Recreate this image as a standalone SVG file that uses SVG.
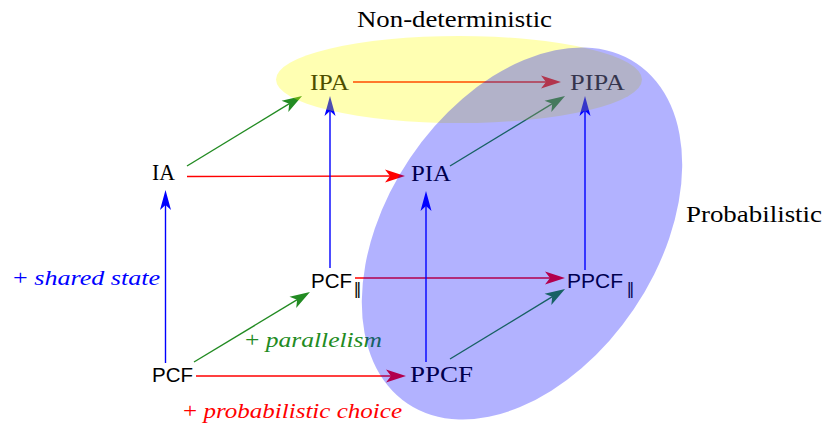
<svg xmlns="http://www.w3.org/2000/svg" width="823" height="426" viewBox="0 0 823 426">
<style>
.serif{font-family:"Liberation Serif","DejaVu Serif",serif;font-size:23px;fill:#000}
.sans{font-family:"Liberation Sans","DejaVu Sans",sans-serif;font-size:21px;fill:#000}
.bar{font-family:"DejaVu Sans",sans-serif;font-size:16px;fill:#000}
.lbl{font-family:"Liberation Serif","DejaVu Serif",serif;font-size:22px}
.it{font-style:italic}
.e{fill:none;stroke-width:1.4}
.r{stroke:#ff0000}
.b{stroke:#0000ff}
.g{stroke:#228b22}
</style>
<defs>
<marker id="ar" markerUnits="userSpaceOnUse" orient="auto" refX="0" refY="0" markerWidth="30" markerHeight="20" overflow="visible"><path d="M10,0 L-10,-6.5 L-5,0 L-10,6.5 Z" fill="#ff0000"/></marker>
<marker id="ab" markerUnits="userSpaceOnUse" orient="auto" refX="0" refY="0" markerWidth="30" markerHeight="20" overflow="visible"><path d="M10,0 L-10,-5.5 L-5,0 L-10,5.5 Z" fill="#0000ff"/></marker>
<marker id="ag" markerUnits="userSpaceOnUse" orient="auto" refX="0" refY="0" markerWidth="30" markerHeight="20" overflow="visible"><path d="M10,0 L-10,-6.5 L-5,0 L-10,6.5 Z" fill="#228b22"/></marker>
</defs>
<g id="labels">
<text class="serif" x="357" y="27" textLength="195" lengthAdjust="spacingAndGlyphs">Non-deterministic</text>
<text class="serif" x="686" y="222" textLength="136" lengthAdjust="spacingAndGlyphs">Probabilistic</text>
<text class="lbl" x="13" y="285" fill="#0000ff" textLength="147" lengthAdjust="spacingAndGlyphs">+ <tspan class="it">shared state</tspan></text>
<text class="lbl" x="245" y="347" fill="#228b22" textLength="137" lengthAdjust="spacingAndGlyphs">+ <tspan class="it">parallelism</tspan></text>
<text class="lbl" x="183" y="418" fill="#ff0000" textLength="219" lengthAdjust="spacingAndGlyphs">+ <tspan class="it">probabilistic choice</tspan></text>
</g>
<g id="node-IA"><text class="serif" x="152" y="180" textLength="23" lengthAdjust="spacingAndGlyphs">IA</text></g>
<g id="node-IPA"><text class="serif" x="310" y="90" textLength="39" lengthAdjust="spacingAndGlyphs">IPA</text></g>
<g id="node-PIA"><text class="serif" x="411" y="181" textLength="40" lengthAdjust="spacingAndGlyphs">PIA</text></g>
<g id="node-PIPA"><text class="serif" x="570" y="90" textLength="55" lengthAdjust="spacingAndGlyphs">PIPA</text></g>
<g id="node-PCF"><text class="sans" x="152" y="382" textLength="41" lengthAdjust="spacingAndGlyphs">PCF</text></g>
<g id="node-PPCF"><text class="serif" x="410" y="382" textLength="63" lengthAdjust="spacingAndGlyphs">PPCF</text></g>
<g id="node-PCFpar"><text class="sans" x="311" y="288" textLength="41" lengthAdjust="spacingAndGlyphs">PCF</text><text class="bar" x="353.5" y="294">‖</text></g>
<g id="node-PPCFpar"><text class="sans" x="567" y="288" textLength="56" lengthAdjust="spacingAndGlyphs">PPCF</text><text class="bar" x="626.5" y="294">‖</text></g>
<g id="connectors">
<line class="e r" x1="353" y1="82" x2="551" y2="82" marker-end="url(#ar)"/>
<line class="e r" x1="187" y1="176.5" x2="395" y2="176" marker-end="url(#ar)"/>
<line class="e r" x1="355" y1="278" x2="555" y2="278" marker-end="url(#ar)"/>
<line class="e r" x1="196" y1="376" x2="396" y2="376" marker-end="url(#ar)"/>
<line class="e b" x1="165.5" y1="363" x2="165.5" y2="200" marker-end="url(#ab)"/>
<line class="e b" x1="330" y1="268" x2="330" y2="106" marker-end="url(#ab)"/>
<line class="e b" x1="426" y1="362" x2="426" y2="201" marker-end="url(#ab)"/>
<line class="e b" x1="585" y1="270" x2="585" y2="106" marker-end="url(#ab)"/>
<line class="e g" x1="187" y1="166" x2="293.5" y2="101.2" marker-end="url(#ag)"/>
<line class="e g" x1="194" y1="362" x2="301.4" y2="297.2" marker-end="url(#ag)"/>
<line class="e g" x1="450" y1="166" x2="556.5" y2="101.2" marker-end="url(#ag)"/>
<line class="e g" x1="450" y1="359" x2="556.5" y2="294.2" marker-end="url(#ag)"/>
</g>
<g id="regions">
<ellipse id="region-nondet" cx="459" cy="79.5" rx="183" ry="43.5" fill="#ffff00" fill-opacity="0.3"/>
<ellipse id="region-prob" cx="522" cy="233.5" rx="205" ry="135" transform="rotate(-56 522 233.5)" fill="#0000ff" fill-opacity="0.3"/>
</g>
</svg>
